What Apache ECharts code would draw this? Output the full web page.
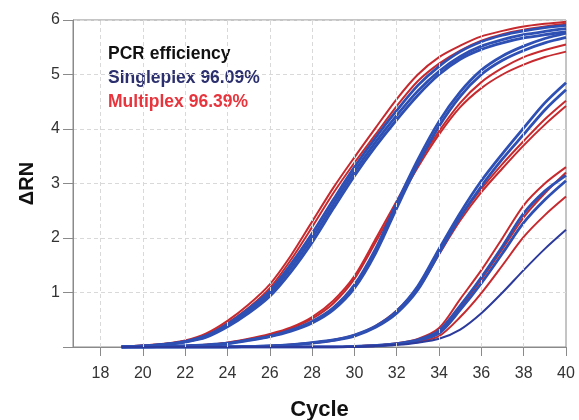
<!DOCTYPE html>
<html>
<head>
<meta charset="utf-8">
<script src="https://cdn.jsdelivr.net/npm/echarts@6/dist/echarts.min.js"></script>
<style>
  html, body { margin: 0; padding: 0; background: #fff; }
  #chart { width: 579px; height: 420px; }
</style>
</head>
<body>
<div id="chart"></div>
<script>
// cycles where the curves were read
var cycles = [19,20,21,22,23,24,25,26,27,28,29,30,31,32,33,34,35,36,37,38,39,40];
var xTicks = [18,20,22,24,26,28,30,32,34,36,38,40];
var gridX = [18,20,22,24,26,28,30,32,34,36,38];

// dilution group A
var aRed1  = [0,0.03,0.06,0.12,0.25,0.48,0.78,1.15,1.68,2.3,2.92,3.48,4.02,4.55,5.0,5.32,5.53,5.7,5.8,5.88,5.93,5.97];
var aRed2  = [0,0.02,0.05,0.11,0.22,0.44,0.72,1.08,1.6,2.2,2.82,3.38,3.9,4.42,4.88,5.2,5.44,5.62,5.74,5.82,5.88,5.93];
var aBlue1 = [0,0.02,0.05,0.1,0.2,0.4,0.66,0.98,1.45,2.0,2.62,3.22,3.76,4.25,4.7,5.06,5.33,5.52,5.64,5.73,5.79,5.84];
var aBlue2 = [0,0.02,0.05,0.1,0.21,0.42,0.7,1.03,1.52,2.08,2.7,3.3,3.84,4.34,4.8,5.15,5.42,5.6,5.72,5.8,5.86,5.9];
var aBlue3 = [0,0.01,0.04,0.09,0.18,0.37,0.62,0.93,1.38,1.92,2.54,3.14,3.68,4.17,4.62,5.0,5.28,5.46,5.58,5.67,5.73,5.78];
// group B
var bRed1  = [0,0,0.01,0.02,0.04,0.08,0.14,0.22,0.34,0.52,0.8,1.25,1.92,2.62,3.3,3.9,4.4,4.75,5.0,5.18,5.32,5.42];
var bRed2  = [0,0,0.01,0.02,0.04,0.08,0.15,0.24,0.36,0.55,0.85,1.3,1.98,2.68,3.36,3.96,4.48,4.86,5.12,5.32,5.45,5.55];
var bBlue1 = [0,0,0.01,0.02,0.03,0.06,0.12,0.19,0.29,0.44,0.68,1.08,1.72,2.55,3.35,4.05,4.6,5.0,5.26,5.44,5.58,5.68];
var bBlue2 = [0,0,0.01,0.02,0.04,0.07,0.13,0.2,0.31,0.47,0.72,1.14,1.8,2.64,3.44,4.14,4.68,5.08,5.34,5.52,5.66,5.76];
// group C
var cRed1  = [0,0,0,0,0,0,0.01,0.02,0.04,0.08,0.13,0.22,0.39,0.67,1.1,1.75,2.38,2.9,3.36,3.78,4.18,4.52];
var cRed2  = [0,0,0,0,0,0,0.01,0.02,0.04,0.07,0.12,0.21,0.37,0.63,1.06,1.7,2.32,2.84,3.28,3.7,4.08,4.42];
var cBlue1 = [0,0,0,0,0,0,0.01,0.02,0.04,0.07,0.12,0.2,0.36,0.62,1.05,1.72,2.38,2.95,3.45,3.9,4.35,4.72];
var cBlue2 = [0,0,0,0,0,0,0.01,0.02,0.04,0.08,0.13,0.22,0.38,0.66,1.12,1.8,2.46,3.05,3.55,4.02,4.48,4.85];
// group D
var dRed1  = [0,0,0,0,0,0,0,0,0,0,0,0.01,0.03,0.07,0.15,0.35,0.88,1.41,2.0,2.6,3.0,3.3];
var dRed2  = [0,0,0,0,0,0,0,0,0,0,0,0.01,0.03,0.06,0.13,0.28,0.72,1.24,1.8,2.38,2.82,3.2];
var dRed3  = [0,0,0,0,0,0,0,0,0,0,0,0.01,0.02,0.05,0.1,0.2,0.55,0.99,1.5,2.02,2.42,2.76];
var dBlue1 = [0,0,0,0,0,0,0,0,0,0,0,0.01,0.03,0.06,0.13,0.3,0.76,1.28,1.85,2.45,2.86,3.15];
var dBlue2 = [0,0,0,0,0,0,0,0,0,0,0,0.01,0.02,0.05,0.12,0.25,0.68,1.17,1.72,2.28,2.7,3.05];
var dBlue3 = [0,0,0,0,0,0,0,0,0,0,0,0,0.02,0.04,0.08,0.15,0.32,0.62,1.0,1.41,1.8,2.15];

var redCurves = [aRed1, aRed2, bRed1, bRed2, cRed1, cRed2, dRed1, dRed2, dRed3];
var blueCurves = [aBlue1, aBlue2, aBlue3, bBlue1, bBlue2, cBlue1, cBlue2, dBlue1, dBlue2, dBlue3];

var RED = '#c62a2e', BLUE = '#2e4fb3';

function pairs(vals) {
  return cycles.map(function (c, i) { return [c, vals[i]]; });
}

function curve(vals, color, width) {
  return {
    type: 'line', data: pairs(vals), showSymbol: false, smooth: 0.3,
    z: 3, silent: true,
    lineStyle: { color: color, width: width }
  };
}

var series = [{
  // vertical dashed grid lines
  type: 'line', data: [], z: 1, silent: true,
  markLine: {
    silent: true, symbol: 'none', label: { show: false },
    lineStyle: { color: '#d9d9d9', type: [4, 3], width: 1 },
    data: gridX.map(function (v) { return { xAxis: v }; })
  }
}];
redCurves.forEach(function (v) { series.push(curve(v, RED, 2)); });
blueCurves.forEach(function (v, i) {
  series.push(curve(v, i === blueCurves.length - 1 ? '#2b3a9c' : BLUE, i === blueCurves.length - 1 ? 2 : 2.8));
});

var chart = echarts.init(document.getElementById('chart'));
chart.setOption({
  animation: false,
  grid: {
    left: 73, right: 13, top: 20, bottom: 73, outerBoundsMode: 'none',
    show: true, borderColor: '#8a8a8a', borderWidth: 1
  },
  xAxis: {
    type: 'value', min: 16.7, max: 40,
    name: 'Cycle', nameLocation: 'middle', nameGap: 52,
    nameTextStyle: { fontFamily: 'Liberation Sans', fontWeight: 'bold', fontSize: 22, color: '#111' },
    axisLine: { lineStyle: { color: '#8a8a8a' } },
    axisTick: { length: 9, lineStyle: { color: '#8a8a8a' }, customValues: xTicks },
    axisLabel: { customValues: xTicks, margin: 19, fontFamily: 'Liberation Sans', fontSize: 16, color: '#333' },
    splitLine: { show: false }
  },
  yAxis: {
    type: 'value', min: 0, max: 6, interval: 1,
    name: 'ΔRN', nameLocation: 'middle', nameGap: 36,
    nameTextStyle: { fontFamily: 'Liberation Sans', fontWeight: 'bold', fontSize: 20, color: '#111' },
    axisLine: { show: true, lineStyle: { color: '#8a8a8a' } },
    axisTick: { show: true, length: 10, lineStyle: { color: '#8a8a8a' } },
    axisLabel: {
      margin: 13, fontFamily: 'Liberation Sans', fontSize: 16, color: '#333',
      formatter: function (v) { return v === 0 ? '' : v; }
    },
    splitLine: { lineStyle: { color: '#d9d9d9', type: [4, 3] } }
  },
  graphic: [
    { type: 'text', left: 108, top: 45.5, style: { text: 'PCR efficiency', fill: '#111', font: 'bold 17.5px "Liberation Sans"' } },
    { type: 'text', left: 108, top: 69.5, style: { text: 'Singleplex 96.09%', fill: '#2b2f6d', font: 'bold 17.5px "Liberation Sans"' } },
    { type: 'text', left: 108, top: 93, style: { text: 'Multiplex 96.39%', fill: '#e8353d', font: 'bold 17.5px "Liberation Sans"' } }
  ],
  series: series
});
</script>
</body>
</html>
